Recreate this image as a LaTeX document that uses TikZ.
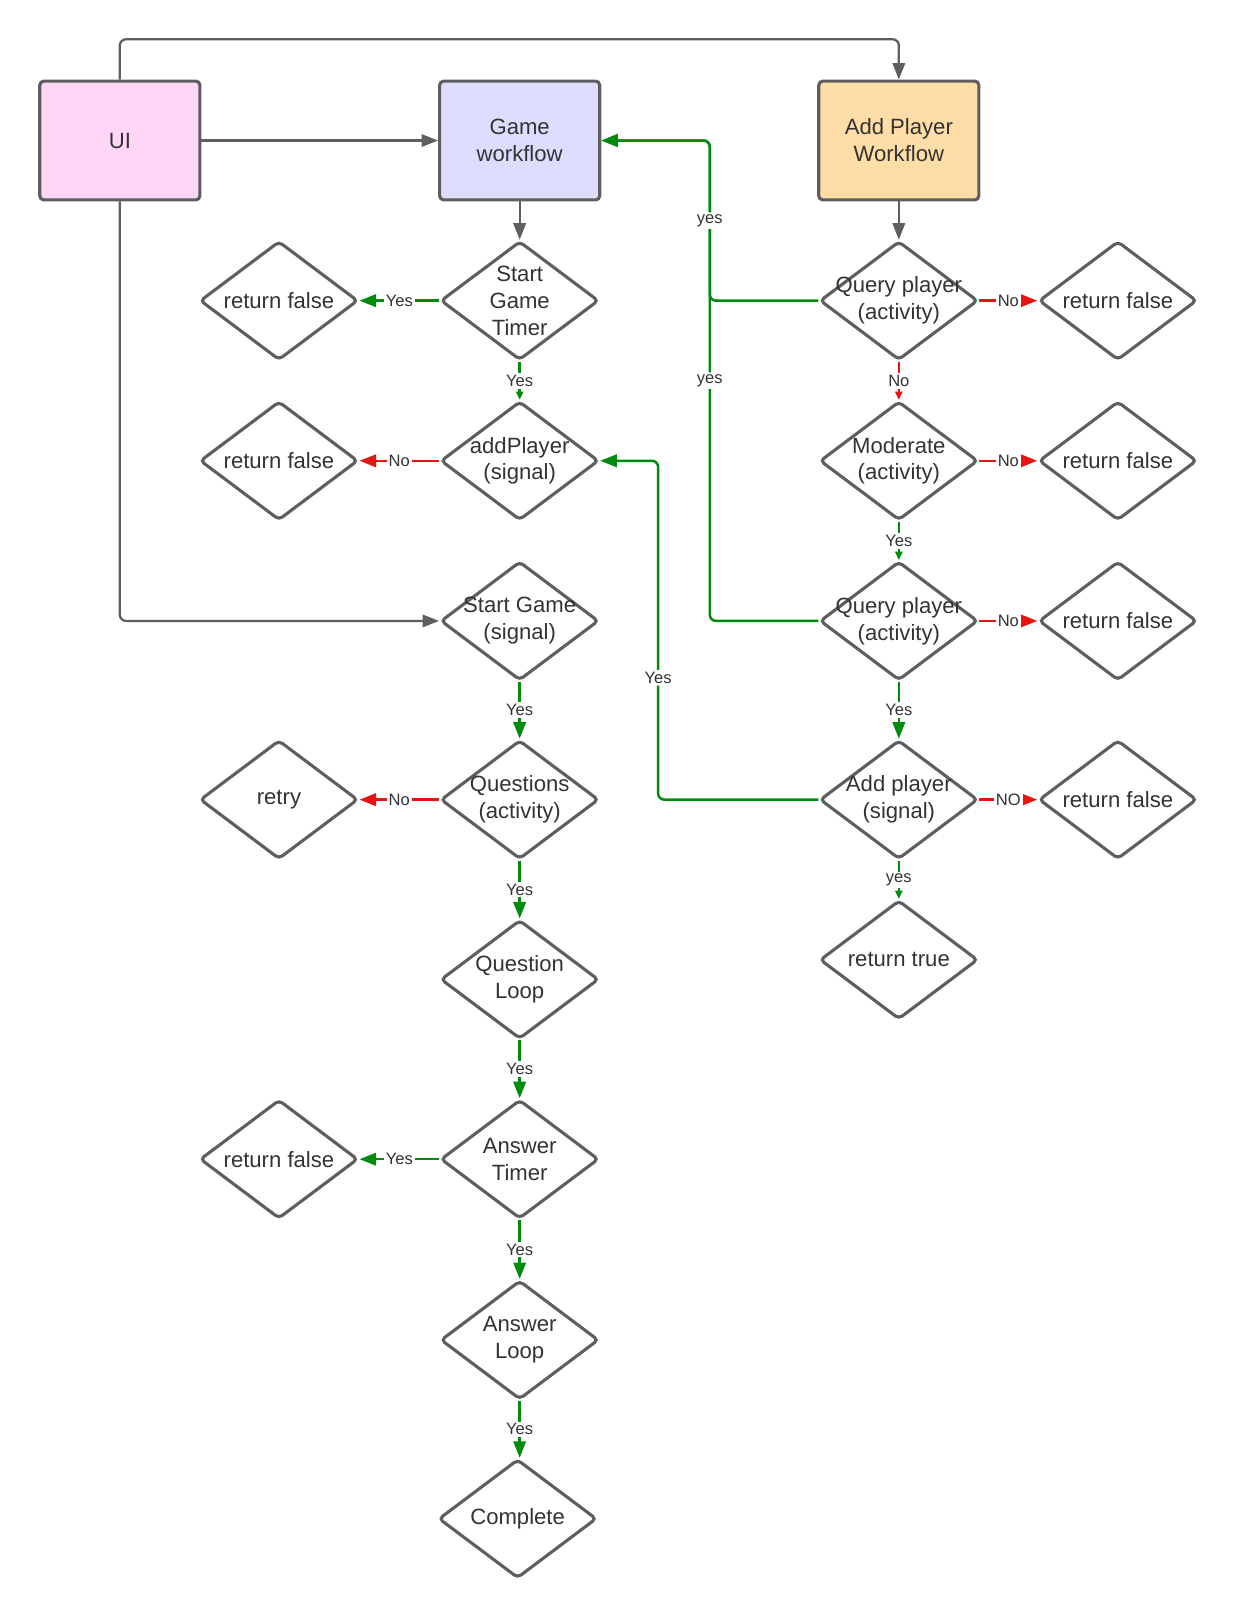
\documentclass[tikz,border=0pt]{standalone}
\usepackage{fontspec}
\setmainfont{Liberation Sans}
\usetikzlibrary{arrows.meta, shapes.geometric}
\definecolor{uipink}{HTML}{FFD6F6}
\definecolor{gwblue}{HTML}{DDDEFF}
\definecolor{apworange}{HTML}{FFDDA6}
\definecolor{edgegray}{HTML}{5E5E5E}
\definecolor{yesgreen}{HTML}{008A0E}
\definecolor{nored}{HTML}{E81313}
\definecolor{txtgray}{HTML}{333333}

\tikzset{
  wfbox/.style={draw=edgegray, line width=1.5pt, rounded corners=2pt, minimum width=77.5pt, minimum height=57.5pt, align=center, text=txtgray, font=\fontsize{10.7}{13}\selectfont},
  decision/.style={diamond, draw=edgegray, line width=1.5pt, rounded corners=2pt, minimum width=76.5pt, minimum height=57.5pt, inner sep=0pt, fill=white},
  dtext/.style={align=center, text=txtgray, font=\fontsize{10.7}{13}\selectfont, inner sep=0pt},
  flowgray/.style={draw=edgegray, line width=1.1pt, -{Triangle[length=8pt,width=6pt]}},
  flowyes/.style={draw=yesgreen, line width=1.2pt, -{Triangle[length=8pt,width=6pt]}},
  flowyessmall/.style={draw=yesgreen, line width=1.2pt, -{Triangle[length=4pt,width=3.5pt]}},
  flowno/.style={draw=nored, line width=1.2pt, -{Triangle[length=8pt,width=6pt]}},
  flownosmall/.style={draw=nored, line width=1.2pt, -{Triangle[length=4pt,width=3.5pt]}},
  lbl/.style={fill=white, text=txtgray, font=\fontsize{8}{9.6}\selectfont, inner sep=1pt},
}

\begin{document}
\begin{tikzpicture}[x=0.5pt,y=0.5pt,yscale=-1,xscale=1]
    \useasboundingbox (0,0) rectangle (1200,1569);

    % Workflow boxes
    \node[wfbox, fill=uipink] (ui) at (116,136) {UI};
    \node[wfbox, fill=gwblue] (gw) at (503,136) {Game\\workflow};
    \node[wfbox, fill=apworange] (apw) at (870,136) {Add Player\\Workflow};

    % Game column
    \node[decision, label={[dtext]center:Start\\Game\\Timer}] (sgt) at (503,291) {};
    \node[decision, label={[dtext]center:return false}] (rf1) at (270,291) {};
    \node[decision, label={[dtext]center:addPlayer\\(signal)}] (ap1) at (503,446) {};
    \node[decision, label={[dtext]center:return false}] (rf2) at (270,446) {};
    \node[decision, label={[dtext]center:Start Game\\(signal)}] (sg) at (503,601) {};
    \node[decision, label={[dtext]center:Questions\\(activity)}] (qs) at (503,774) {};
    \node[decision, label={[dtext]center:retry}] (rt) at (270,774) {};
    \node[decision, label={[dtext]center:Question\\Loop}] (ql) at (503,948) {};
    \node[decision, label={[dtext]center:Answer\\Timer}] (at) at (503,1122) {};
    \node[decision, label={[dtext]center:return false}] (rf3) at (270,1122) {};
    \node[decision, label={[dtext]center:Answer\\Loop}] (al) at (503,1297) {};
    \node[decision, label={[dtext]center:Complete}] (cp) at (501,1470) {};

    % Add player column
    \node[decision, label={[dtext]center:Query player\\(activity)}] (qp1) at (870,291) {};
    \node[decision, label={[dtext]center:return false}] (rf4) at (1082,291) {};
    \node[decision, label={[dtext]center:Moderate\\(activity)}] (md) at (870,446) {};
    \node[decision, label={[dtext]center:return false}] (rf5) at (1082,446) {};
    \node[decision, label={[dtext]center:Query player\\(activity)}] (qp2) at (870,601) {};
    \node[decision, label={[dtext]center:return false}] (rf6) at (1082,601) {};
    \node[decision, label={[dtext]center:Add player\\(signal)}] (ap) at (870,774) {};
    \node[decision, label={[dtext]center:return false}] (rf7) at (1082,774) {};
    \node[decision, label={[dtext]center:return true}] (rt2) at (870,929) {};

    % Connection
    \draw[flowgray, rounded corners=3pt] (ui.north) -- ++(0,-39) -| (apw.north);
    \draw[flowgray] (ui.east) -- (gw.west);
    \draw[flowgray, rounded corners=3pt] (ui.south) |- (sg.west);
    \draw[flowgray] (gw.south) -- (sgt.north);
    \draw[flowgray] (apw.south) -- (qp1.north);

    % Connection
    \draw[flowyes] (sgt.west) -- node[lbl]{Yes} (rf1.east);
    \draw[flowyessmall] (sgt.south) -- node[lbl]{Yes} (ap1.north);
    \draw[flowno] (ap1.west) -- node[lbl]{No} (rf2.east);
    \draw[flowyes] (sg.south) -- node[lbl]{Yes} (qs.north);
    \draw[flowno] (qs.west) -- node[lbl]{No} (rt.east);
    \draw[flowyes] (qs.south) -- node[lbl]{Yes} (ql.north);
    \draw[flowyes] (ql.south) -- node[lbl]{Yes} (at.north);
    \draw[flowyes] (at.west) -- node[lbl]{Yes} (rf3.east);
    \draw[flowyes] (at.south) -- node[lbl]{Yes} (al.north);
    \draw[flowyes] (al.south) -- node[lbl]{Yes} (al.south |- cp.north);

    % Connection
    \draw[flowyes, rounded corners=3pt] (qp2.west) -- ++(-105,0) |- node[lbl, pos=0.25]{yes} (gw.east);
    \draw[flowyes, rounded corners=3pt] (qp1.west) -- ++(-105,0) |- node[lbl, pos=0.25]{yes} (gw.east);
    \draw[flowno] (qp1.east) -- node[lbl]{No} (rf4.west);
    \draw[flownosmall] (qp1.south) -- node[lbl]{No} (md.north);
    \draw[flowno] (md.east) -- node[lbl]{No} (rf5.west);
    \draw[flowyessmall] (md.south) -- node[lbl]{Yes} (qp2.north);
    \draw[flowno] (qp2.east) -- node[lbl]{No} (rf6.west);
    \draw[flowyes] (qp2.south) -- node[lbl]{Yes} (ap.north);
    \draw[flowyes, rounded corners=3pt] (ap.west) -- ++(-155,0) |- node[lbl, pos=0.18]{Yes} (ap1.east);
    \draw[flowno] (ap.east) -- node[lbl]{NO} (rf7.west);
    \draw[flowyessmall] (ap.south) -- node[lbl]{yes} (rt2.north);

\end{tikzpicture}
\end{document}
